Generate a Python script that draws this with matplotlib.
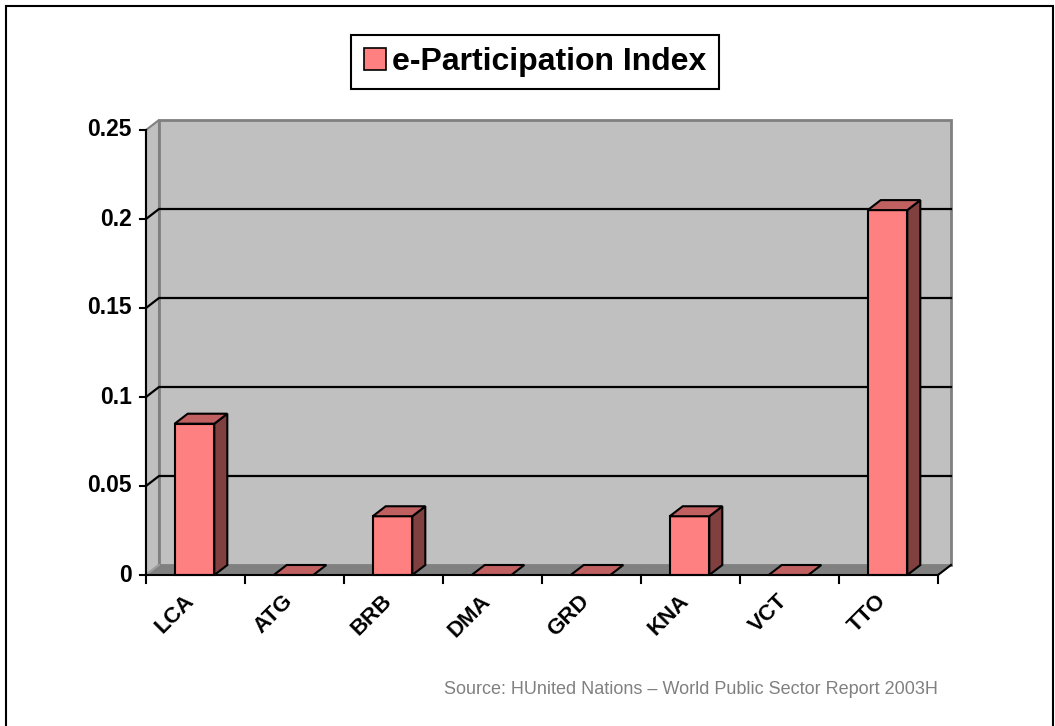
import matplotlib
matplotlib.use("Agg")
import matplotlib.pyplot as plt
from matplotlib.patches import Polygon, Rectangle, Patch

categories = ['LCA', 'ATG', 'BRB', 'DMA', 'GRD', 'KNA', 'VCT', 'TTO']
index_values = [0.085, 0.0, 0.033, 0.0, 0.0, 0.033, 0.0, 0.205]
y_ticks = [0, 0.05, 0.1, 0.15, 0.2, 0.25]
y_tick_labels = ['0', '0.05', '0.1', '0.15', '0.2', '0.25']
series_name = 'e-Participation Index'
source_note = 'Source: HUnited Nations \u2013 World Public Sector Report 2003H'

FRONT = '#FF8080'
TOP = '#C06060'
SIDE = '#804040'
WALL = '#C0C0C0'
FLOOR = '#808080'
EDGE = '#808080'

plt.rcParams['font.family'] = ['Liberation Sans', 'DejaVu Sans']

W, H = 1055, 726
fig = plt.figure(figsize=(W / 100, H / 100), dpi=100)

# front plane of the 3-D box, in pixels
left, right, bottom, top = 146, 938, 575, 130
ax = fig.add_axes([left / W, 1 - bottom / H, (right - left) / W, (bottom - top) / H])
ymax = 0.25
n = len(categories)
ax.set_xlim(0, n)
ax.set_ylim(0, ymax)
ax.axis('off')

# depth of the box, pixels -> data units
px_x = (right - left) / n
px_y = (bottom - top) / ymax
dx = 13 / px_x
dy = 10 / px_y


def poly(pts, **kw):
    p = Polygon(pts, closed=True, clip_on=False, **kw)
    ax.add_patch(p)
    return p


# walls and floor
poly([(0, 0), (0, ymax), (dx, ymax + dy), (dx, dy)], facecolor=WALL, edgecolor=EDGE, lw=1.5, zorder=1)
ax.add_patch(Rectangle((dx, dy), n, ymax, facecolor=WALL, edgecolor=EDGE, lw=2, clip_on=False, zorder=1))
poly([(0, 0), (n, 0), (n + dx, dy), (dx, dy)], facecolor=FLOOR, edgecolor='none', zorder=1)
ax.plot([0, dx], [0, dy], color='#A0A0A0', lw=1.2, clip_on=False, zorder=1.5)
ax.plot([n, n + dx], [0, dy], color='black', lw=1.5, clip_on=False, zorder=1.5)

# gridlines on the side and back walls
for v in y_ticks[1:-1]:
    ax.plot([0, dx, n + dx], [v, v + dy, v + dy], color='black', lw=1.6, clip_on=False, zorder=2)

# bars
bar_w = 0.4
bar_off = 0.29
for i, v in enumerate(index_values):
    x0 = i + bar_off
    x1 = x0 + bar_w
    if v > 0:
        ax.add_patch(Rectangle((x0, 0), bar_w, v, facecolor=FRONT, edgecolor='black',
                               lw=1.5, clip_on=False, zorder=3))
        poly([(x1, 0), (x1 + dx, dy), (x1 + dx, v + dy), (x1, v)],
             facecolor=SIDE, edgecolor='black', lw=1.5, zorder=3)
    poly([(x0, v), (x1, v), (x1 + dx, v + dy), (x0 + dx, v + dy)],
         facecolor=TOP, edgecolor='black', lw=1.5, zorder=3)

# axes lines and ticks
ax.plot([0, 0], [0, ymax], color='black', lw=1.5, clip_on=False, zorder=5)
ax.plot([0, n], [0, 0], color='black', lw=1.5, clip_on=False, zorder=5)
tick_x = 6 / px_x
tick_y = 8 / px_y
for v, lab in zip(y_ticks, y_tick_labels):
    ax.plot([-tick_x, 0], [v, v], color='black', lw=1.5, clip_on=False, zorder=5)
    ax.text(-tick_x - 8 / px_x, v, lab, ha='right', va='center', fontsize=16.5,
            fontweight='bold')
for i in range(n + 1):
    ax.plot([i, i], [0, -tick_y], color='black', lw=1.5, clip_on=False, zorder=5)
for i, cat in enumerate(categories):
    ax.text(i + 0.45, -0.013, cat, rotation=45, rotation_mode='anchor',
            ha='right', va='center', fontsize=16, fontweight='bold')

# legend
handle = Patch(facecolor=FRONT, edgecolor='black', lw=1.2)
leg = fig.legend([handle], [series_name], loc='upper center',
                 bbox_to_anchor=(535 / W, 1 - 35 / H), fancybox=False,
                 frameon=True, edgecolor='black', framealpha=1,
                 prop={'size': 23, 'weight': 'bold'},
                 handlelength=0.7, handleheight=0.7, handletextpad=0.2,
                 borderpad=0.38, borderaxespad=0)
leg.get_frame().set_linewidth(1.5)

# source note
fig.text(938 / W, 1 - 689 / H, source_note, ha='right', va='center',
         fontsize=13, color='#808080')

# outer frame
fig.patches.append(Rectangle((6 / W, -0.01), 1047 / W, 1.01 - 6 / H, transform=fig.transFigure,
                             fill=False, edgecolor='black', lw=1.5))

fig.savefig('out.png', dpi=100)
